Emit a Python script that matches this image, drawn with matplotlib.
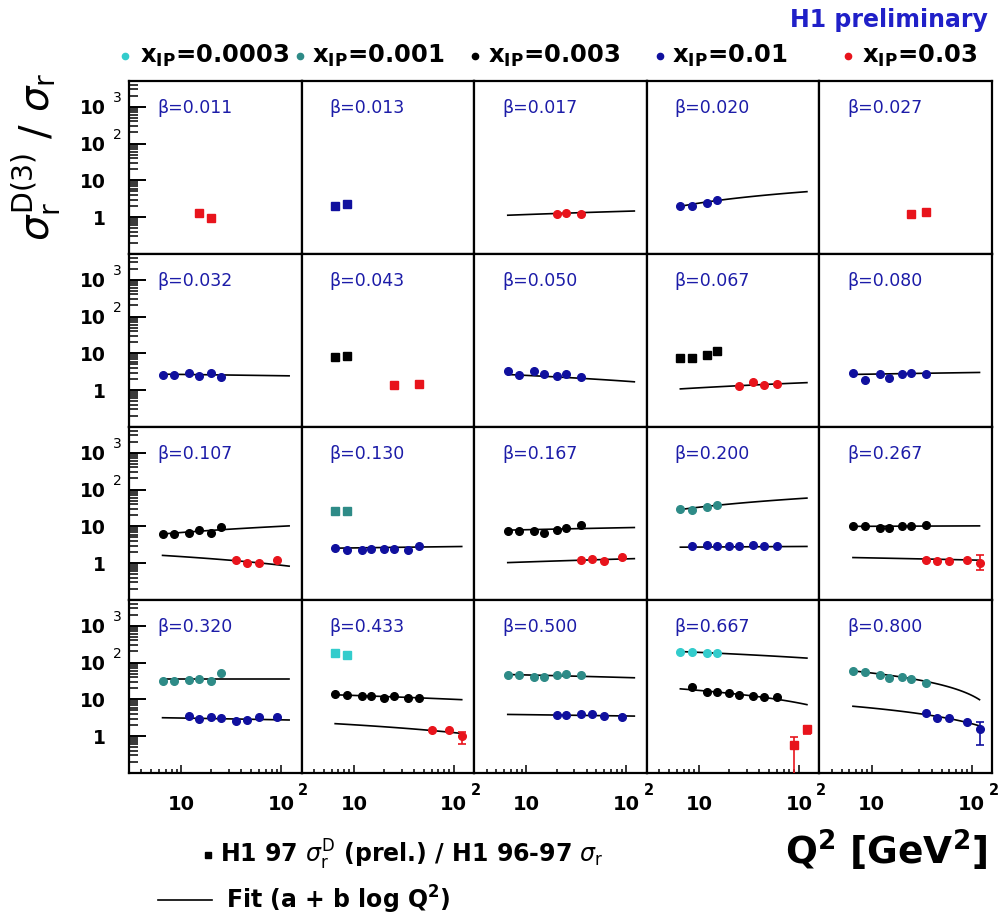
import numpy as np
import matplotlib
matplotlib.use('Agg')
import matplotlib.pyplot as plt
from matplotlib.lines import Line2D
from matplotlib.ticker import FixedLocator, LogLocator, NullFormatter

# ---------------- data ----------------
betas = [0.011, 0.013, 0.017, 0.020, 0.027,
         0.032, 0.043, 0.050, 0.067, 0.080,
         0.107, 0.130, 0.167, 0.200, 0.267,
         0.320, 0.433, 0.500, 0.667, 0.800]
xip_labels = ['0.0003', '0.001', '0.003', '0.01', '0.03']
xip_colors = ['#33cccc', '#2e8b87', '#000000', '#10109e', '#e8141c']

# beta -> (Q2 values, ratio values)
data_xip0003 = {
    0.433: ([6.5, 8.5], [179, 161]),
    0.667: ([6.5, 8.5, 12, 15], [199, 191, 183, 183]),
}
data_xip001 = {
    0.130: ([6.5, 8.5], [26, 26]),
    0.200: ([6.5, 8.5, 12, 15], [30, 27, 33, 37]),
    0.320: ([6.5, 8.5, 12, 15, 20, 25], [32, 32, 33.5, 35.5, 32, 52]),
    0.500: ([6.5, 8.5, 12, 15, 20, 25, 35], [47, 47, 41, 41, 45.6, 50, 45.6]),
    0.800: ([6.5, 8.5, 12, 15, 20, 25, 35], [59, 56, 47, 38.6, 41, 35.6, 27.2]),
}
data_xip003 = {
    0.043: ([6.5, 8.5], [7.9, 8.7]),
    0.067: ([6.5, 8.5, 12, 15], [7.45, 7.45, 9.1, 11.9]),
    0.107: ([6.5, 8.5, 12, 15, 20, 25], [6.2, 6.3, 6.8, 7.9, 6.8, 9.7]),
    0.167: ([6.5, 8.5, 12, 15, 20, 25, 35], [7.6, 7.6, 7.6, 6.8, 7.9, 8.9, 11]),
    0.267: ([6.5, 8.5, 12, 15, 20, 25, 35], [10.3, 10.3, 9.3, 9.3, 10.3, 10.3, 11]),
    0.433: ([6.5, 8.5, 12, 15, 20, 25, 35, 45], [13.8, 12.8, 12, 12, 10.8, 12, 10.8, 10.8]),
    0.667: ([8.5, 12, 15, 20, 25, 35, 45, 60], [22.2, 16.3, 16.3, 14.7, 13.3, 12, 11.3, 11.3]),
}
data_xip01 = {
    0.013: ([6.5, 8.5], [1.96, 2.22]),
    0.020: ([6.5, 8.5, 12, 15], [1.97, 1.97, 2.47, 2.84]),
    0.032: ([6.5, 8.5, 12, 15, 20, 25], [2.66, 2.66, 2.95, 2.5, 2.95, 2.27]),
    0.050: ([6.5, 8.5, 12, 15, 20, 25, 35], [3.27, 2.56, 3.27, 2.67, 2.4, 2.67, 2.32]),
    0.080: ([6.5, 8.5, 12, 15, 20, 25, 35], [2.84, 1.88, 2.67, 2.09, 2.67, 2.96, 2.67]),
    0.130: ([6.5, 8.5, 12, 15, 20, 25, 35, 45], [2.56, 2.32, 2.32, 2.46, 2.46, 2.36, 2.32, 3.02]),
    0.200: ([8.5, 12, 15, 20, 25, 35, 45, 60], [2.84, 3.21, 2.84, 2.84, 2.84, 3.21, 2.84, 2.84]),
    0.320: ([12, 15, 20, 25, 35, 45, 60, 90], [3.52, 2.87, 3.37, 3.17, 2.59, 2.7, 3.31, 3.31]),
    0.500: ([20, 25, 35, 45, 60, 90], [3.74, 3.74, 4.06, 4.06, 3.52, 3.31]),
    0.800: ([35, 45, 60, 90, 120], [4.31, 3.17, 3.06, 2.44, 1.56]),
}
data_xip03 = {
    0.011: ([15, 20], [1.28, 0.94]),
    0.017: ([20, 25, 35], [1.2, 1.3, 1.2]),
    0.027: ([25, 35], [1.25, 1.38]),
    0.043: ([25, 45], [1.38, 1.45]),
    0.067: ([25, 35, 45, 60], [1.3, 1.63, 1.38, 1.45]),
    0.107: ([35, 45, 60, 90], [1.25, 1.02, 1.02, 1.25]),
    0.167: ([35, 45, 60, 90], [1.2, 1.33, 1.15, 1.47]),
    0.267: ([35, 45, 60, 90, 120], [1.25, 1.15, 1.15, 1.25, 1.02]),
    0.433: ([60, 90, 120], [1.46, 1.46, 1.03]),
    0.667: ([90, 120], [0.59, 1.56]),
}
all_data = [data_xip0003, data_xip001, data_xip003, data_xip01, data_xip03]

# fits: beta -> (a, b) for  a + b*log10(Q2)
fits_xip0003 = {0.667: (242.0, -52.9)}
fits_xip001 = {0.200: (9.51, 23.61), 0.320: (34.9, 0.0), 0.500: (52.9, -6.87),
               0.800: (91.1, -39.1)}
fits_xip003 = {0.107: (3.57, 3.24), 0.167: (7.0, 1.11), 0.267: (9.81, 0.24),
               0.433: (15.55, -2.76), 0.667: (27.07, -9.56)}
fits_xip01 = {0.020: (0.07, 2.34), 0.032: (2.89, -0.21), 0.050: (3.29, -0.77),
              0.080: (2.45, 0.28), 0.130: (2.38, 0.22), 0.200: (2.64, 0.10),
              0.320: (3.44, -0.33), 0.500: (4.14, -0.30), 0.800: (9.45, -3.63)}
fits_xip03 = {0.017: (0.91, 0.27), 0.067: (0.75, 0.41), 0.107: (2.14, -0.63),
              0.167: (0.85, 0.23), 0.267: (1.56, -0.17), 0.433: (2.83, -0.79)}
all_fits = [fits_xip0003, fits_xip001, fits_xip003, fits_xip01, fits_xip03]
fit_q2_range = (6.5, 120)

# visible error bars: (x_IP index, beta, Q2, value, low, high)
error_bars = [
    (3, 0.800, 120, 1.56, 0.59, 2.44),
    (4, 0.267, 120, 1.02, 0.65, 1.63),
    (4, 0.433, 120, 1.03, 0.62, 1.26),
    (4, 0.667, 90, 0.59, 0.05, 0.93),
    (4, 0.667, 120, 1.56, 1.14, 1.90),
]

# ---------------- figure ----------------
W, H = 1003, 921
fig = plt.figure(figsize=(W / 100, H / 100), dpi=100)
fig.patch.set_facecolor('white')
gs = fig.add_gridspec(4, 5, left=129 / W, right=992 / W, top=1 - 81 / H,
                      bottom=1 - 773 / H, wspace=0, hspace=0)

beta_color = '#1c1ca8'
qfit = np.geomspace(fit_q2_range[0], fit_q2_range[1], 80)

for i, b in enumerate(betas):
    r, c = divmod(i, 5)
    ax = fig.add_subplot(gs[r, c])
    ax.set_xscale('log')
    ax.set_yscale('log')
    ax.set_xlim(3, 160)
    ax.set_ylim(0.1, 5000)
    for s in ax.spines.values():
        s.set_linewidth(1.6)
    ax.yaxis.set_major_locator(FixedLocator([1, 10, 100, 1000]))
    ax.yaxis.set_minor_locator(LogLocator(base=10, subs=np.arange(2, 10), numticks=30))
    ax.xaxis.set_major_locator(FixedLocator([10, 100]))
    ax.xaxis.set_minor_locator(LogLocator(base=10, subs=np.arange(2, 10), numticks=30))
    ax.xaxis.set_minor_formatter(NullFormatter())
    ax.yaxis.set_minor_formatter(NullFormatter())
    ax.tick_params(which='both', direction='in', top=False, right=False, width=1.1)
    ax.tick_params(axis='y', which='major', length=12.5, width=1.4)
    ax.tick_params(axis='y', which='minor', length=6.5)
    ax.tick_params(axis='x', which='major', length=5.5)
    ax.tick_params(axis='x', which='minor', length=2.8)

    if c == 0:
        ax.set_yticklabels(['1', '10', '10', '10'], fontsize=13.5, fontweight='bold')
        ax.tick_params(axis='y', which='major', pad=17)
        for val, sup in [(100, '2'), (1000, '3')]:
            ax.annotate(sup, xy=(0, val), xycoords=('axes fraction', 'data'),
                        xytext=(-16, 9), textcoords='offset pixels',
                        ha='left', va='center', fontsize=10)
    else:
        ax.tick_params(axis='y', which='both', left=False, labelleft=False)

    if r == 3:
        ax.set_xticklabels(['10', '10'], fontsize=14, fontweight='bold')
        ax.tick_params(axis='x', which='major', pad=16)
        ax.annotate('2', xy=(100, 0), xycoords=('data', 'axes fraction'),
                    xytext=(17, -17), textcoords='offset pixels',
                    ha='left', va='center', fontsize=10.5, fontweight='bold')
    else:
        ax.tick_params(axis='x', which='both', bottom=False, labelbottom=False)

    ax.text(0.162, 0.845, '\u03b2=%.3f' % b, transform=ax.transAxes,
            ha='left', va='center', fontsize=12.5, color=beta_color)

    # fits
    for k in range(5):
        if b in all_fits[k]:
            a_, b_ = all_fits[k][b]
            ax.plot(qfit, a_ + b_ * np.log10(qfit), color='black', lw=1.2, zorder=2)
    # data
    for k in range(5):
        if b in all_data[k]:
            q, v = all_data[k][b]
            mk = 'o' if b in all_fits[k] else 's'
            ax.plot(q, v, ls='none', marker=mk, ms=5.5, color=xip_colors[k],
                    mec=xip_colors[k], zorder=3)
    for (k, bb, q, v, lo, hi) in error_bars:
        if bb == b:
            ax.errorbar([q], [v], yerr=[[v - lo], [hi - v]], fmt='none',
                        ecolor=xip_colors[k], elinewidth=1.2, capsize=3,
                        capthick=1.2, zorder=3)


def fx(px):
    return px / W


def fy(py):
    return 1 - py / H


# top legend
dot_x = [125, 300, 475, 660, 848]
txt_x = [140, 312, 488, 672, 862]
for k in range(5):
    fig.add_artist(Line2D([fx(dot_x[k])], [fy(56)], transform=fig.transFigure,
                          marker='o', ms=4.5, color=xip_colors[k], ls='none'))
    fig.text(fx(txt_x[k]), fy(56), 'x$_{\\mathbf{IP}}$=' + xip_labels[k],
             ha='left', va='center', fontsize=17.5, fontweight='bold')

fig.text(fx(988), fy(20), 'H1 preliminary', ha='right', va='center',
         fontsize=17, fontweight='bold', color='#2020c8')

# y label
fig.text(fx(37), fy(73), r'$\sigma_{\mathrm{r}}^{\mathrm{D(3)}}$ / $\sigma_{\mathrm{r}}$',
         rotation=90, ha='center', va='top', fontsize=29)

# x label
fig.text(fx(988), fy(850), r'Q$^{\mathbf{2}}$ [GeV$^{\mathbf{2}}$]', ha='right',
         va='center', fontsize=27, fontweight='bold')

# bottom legend
fig.add_artist(Line2D([fx(208)], [fy(855)], transform=fig.transFigure,
                      marker='s', ms=4, color='black', ls='none'))
fig.text(fx(220), fy(855),
         r'H1 97 $\sigma_{\mathrm{r}}^{\mathrm{D}}$ (prel.) / H1 96-97 $\sigma_{\mathrm{r}}$',
         ha='left', va='center', fontsize=17, fontweight='bold')
fig.add_artist(Line2D([fx(158), fx(212)], [fy(900), fy(900)], transform=fig.transFigure,
                      color='black', lw=1.2))
fig.text(fx(226), fy(900), r'Fit (a + b log Q$^{\mathbf{2}}$)', ha='left', va='center',
         fontsize=17, fontweight='bold')

fig.savefig('out.png', dpi=100, facecolor='white')
